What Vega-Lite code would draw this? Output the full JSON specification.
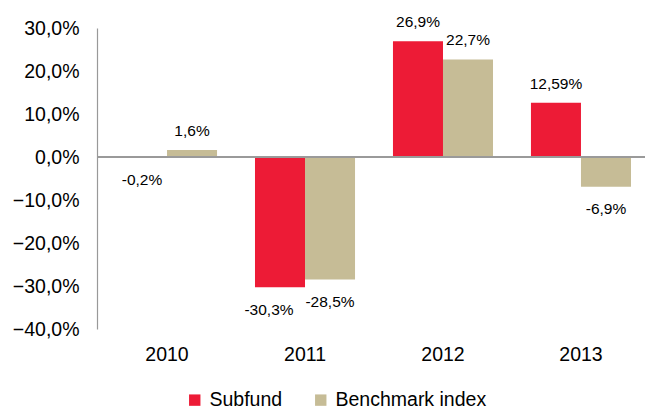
{
  "$schema": "https://vega.github.io/schema/vega-lite/v6.json",
  "width": 554,
  "height": 301,
  "autosize": "none",
  "padding": {"left": 97, "top": 28, "right": 0, "bottom": 80},
  "background": "white",
  "data": {
    "values": [
      {"year": "2010", "series": "Subfund", "value": -0.2, "label": "-0,2%"},
      {"year": "2010", "series": "Benchmark index", "value": 1.6, "label": "1,6%"},
      {"year": "2011", "series": "Subfund", "value": -30.3, "label": "-30,3%"},
      {"year": "2011", "series": "Benchmark index", "value": -28.5, "label": "-28,5%"},
      {"year": "2012", "series": "Subfund", "value": 26.9, "label": "26,9%"},
      {"year": "2012", "series": "Benchmark index", "value": 22.7, "label": "22,7%"},
      {"year": "2013", "series": "Subfund", "value": 12.59, "label": "12,59%"},
      {"year": "2013", "series": "Benchmark index", "value": -6.9, "label": "-6,9%"}
    ]
  },
  "encoding": {
    "x": {
      "field": "year", "type": "nominal",
      "scale": {"paddingInner": 0.275, "paddingOuter": 0.145},
      "axis": {"title": null, "labelAngle": 0, "domain": false, "ticks": false, "labelPadding": 16, "labelFontSize": 19.5, "labelColor": "#000000", "labelFont": "Liberation Sans"}
    },
    "xOffset": {"field": "series", "type": "nominal", "sort": ["Subfund", "Benchmark index"], "scale": {"paddingInner": 0, "paddingOuter": 0}},
    "y": {
      "field": "value", "type": "quantitative",
      "scale": {"domain": [-40, 30], "nice": false, "zero": false},
      "axis": {"title": null, "values": [-40, -30, -20, -10, 0, 10, 20, 30], "labelExpr": "replace(format(datum.value, '.1f'), '.', ',') + '%'", "grid": false, "ticks": false, "domainColor": "#999999", "domainWidth": 1.2, "labelPadding": 18, "labelFontSize": 19.5, "labelColor": "#000000", "labelFont": "Liberation Sans"}
    }
  },
  "layer": [
    {
      "mark": {"type": "bar"},
      "encoding": {
        "color": {
          "field": "series", "type": "nominal",
          "sort": ["Subfund", "Benchmark index"],
          "scale": {"domain": ["Subfund", "Benchmark index"], "range": ["#ED1B36", "#C6BC96"]},
          "legend": {"title": null, "orient": "none", "legendX": 88, "legendY": 362, "direction": "horizontal", "symbolType": "square", "symbolSize": 130, "symbolStrokeWidth": 0, "labelFontSize": 19.5, "labelFont": "Liberation Sans", "labelColor": "#000000", "columnPadding": 28, "labelOffset": 5}
        }
      }
    },
    {
      "mark": {"type": "rule", "color": "#999999", "strokeWidth": 1.2},
      "encoding": {"y": {"datum": 0}, "x": null, "xOffset": null}
    },
    {
      "transform": [{"filter": "datum.value >= 0"}],
      "mark": {"type": "text", "dy": -19, "fontSize": 15.5, "font": "Liberation Sans", "color": "#000000"},
      "encoding": {"text": {"field": "label"}}
    },
    {
      "transform": [{"filter": "datum.value < 0 && datum.value > -30"}],
      "mark": {"type": "text", "dy": 22, "fontSize": 15.5, "font": "Liberation Sans", "color": "#000000"},
      "encoding": {"text": {"field": "label"}}
    },
    {
      "transform": [{"filter": "datum.value <= -30"}],
      "mark": {"type": "text", "dy": 23, "dx": -11, "fontSize": 15.5, "font": "Liberation Sans", "color": "#000000"},
      "encoding": {"text": {"field": "label"}}
    }
  ],
  "config": {"view": {"stroke": null}}
}
